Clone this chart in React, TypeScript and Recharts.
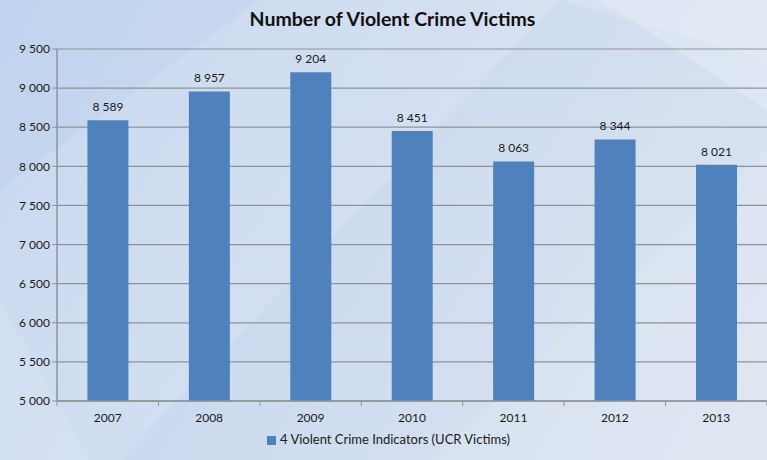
import React from 'react';
import { BarChart, Bar, XAxis, YAxis, CartesianGrid, Legend, LabelList } from 'recharts';

const years = ['2007', '2008', '2009', '2010', '2011', '2012', '2013'];
const victims = [8589, 8957, 9204, 8451, 8063, 8344, 8021];
const yTicks = [5000, 5500, 6000, 6500, 7000, 7500, 8000, 8500, 9000, 9500];

const data = years.map((year, i) => ({ year, victims: victims[i] }));

const FONT = 'Lato, "Open Sans", sans-serif';
const BAR_COLOR = '#4F81BD';
const AXIS_COLOR = '#8e9399';

// non-breaking space as thousands separator, like "9 500" (keeps Recharts from wrapping)
const fmt = (v: any) => String(v).replace(/\B(?=(\d{3})+(?!\d))/g, '\u00A0');

const W = 767;
const H = 460;
const BAND = (W - 57) / years.length;

// category label plus a small tick mark on the left band boundary
const XTick = (props: any) => {
  const { x, y, payload, index } = props;
  const left = x - BAND / 2;
  return (
    <g>
      <line x1={left} x2={left} y1={y - 8} y2={y - 3} stroke={AXIS_COLOR} />
      {index === years.length - 1 && (
        <line x1={x + BAND / 2} x2={x + BAND / 2} y1={y - 8} y2={y - 3} stroke={AXIS_COLOR} />
      )}
      <text x={x} y={y + 13} textAnchor="middle" fontSize={12} fill="#1a1a1a" fontFamily={FONT}>
        {payload.value}
      </text>
    </g>
  );
};

export default function App() {
  return (
    <div
      style={{
        position: 'absolute',
        left: 0,
        top: 0,
        width: W,
        height: H,
        overflow: 'hidden',
        background: 'linear-gradient(120deg, #c0d3ee 0%, #ccdaef 40%, #d4e0f0 70%, #dce5f0 100%)',
      }}
    >
      <svg width={W} height={H} style={{ position: 'absolute', left: 0, top: 0 }}>
        <polygon points="0,190 260,0 767,0 767,60 560,0 120,460 0,460" fill="#ffffff" opacity={0.13} />
        <polygon points="430,460 767,150 767,460" fill="#ffffff" opacity={0.1} />
        <polygon points="600,0 767,0 767,110" fill="#ffffff" opacity={0.2} />
        <polygon points="0,300 0,460 90,460" fill="#ffffff" opacity={0.1} />
      </svg>
      <div
        style={{
          position: 'absolute',
          top: 7,
          left: 0,
          width: W,
          textAlign: 'center',
          paddingLeft: 18,
          boxSizing: 'border-box',
          fontFamily: FONT,
          fontWeight: 700,
          fontSize: 19.5,
          color: '#111',
        }}
      >
        Number of Violent Crime Victims
      </div>
      <div style={{ position: 'absolute', left: 0, top: 0 }}>
        <BarChart
          width={W}
          height={H}
          data={data}
          margin={{ top: 49, right: 0, left: 0, bottom: 5 }}
          barCategoryGap="30%"
        >
          <CartesianGrid vertical={false} stroke={AXIS_COLOR} strokeWidth={1.2} />
          <YAxis
            width={57}
            domain={[5000, 9500]}
            ticks={yTicks}
            interval={0}
            allowDataOverflow
            tickFormatter={fmt}
            axisLine={{ stroke: AXIS_COLOR, strokeWidth: 1.5 }}
            tickLine={{ stroke: AXIS_COLOR }}
            tickSize={5}
            tick={{ fontSize: 12, fill: '#1a1a1a', fontFamily: FONT }}
          />
          <XAxis
            dataKey="year"
            height={30}
            axisLine={{ stroke: AXIS_COLOR, strokeWidth: 1.5 }}
            tickLine={false}
            tick={<XTick />}
            interval={0}
          />
          <Legend
            verticalAlign="bottom"
            height={24}
            iconType="square"
            iconSize={9}
            wrapperStyle={{ fontFamily: FONT, fontSize: 13, paddingLeft: 10 }}
            formatter={(value: any) => <span style={{ color: '#1a1a1a' }}>{value}</span>}
          />
          <Bar
            dataKey="victims"
            name="4 Violent Crime Indicators (UCR Victims)"
            fill={BAR_COLOR}
            isAnimationActive={false}
          >
            <LabelList
              dataKey="victims"
              position="top"
              offset={9}
              formatter={fmt}
              style={{ fontSize: 12, fill: '#1a1a1a', fontFamily: FONT }}
            />
          </Bar>
        </BarChart>
      </div>
    </div>
  );
}
